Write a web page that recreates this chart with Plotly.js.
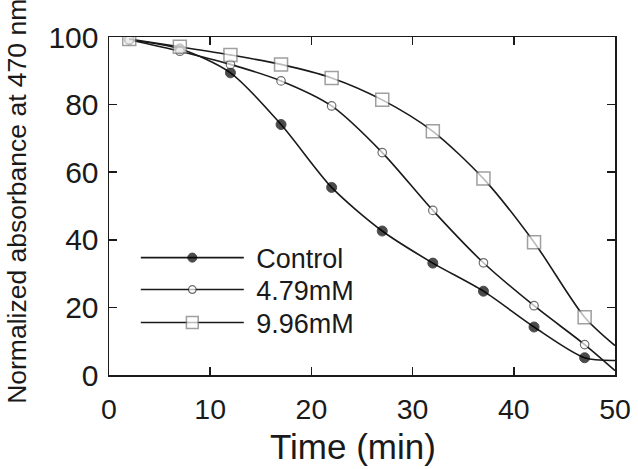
<!DOCTYPE html>
<html>
<head>
<meta charset="utf-8">
<script src="https://cdn.plot.ly/plotly-3.0.1.min.js"></script>
<style>html,body{margin:0;padding:0;background:#fff;}#chart{width:638px;height:469px;}</style>
</head>
<body>
<div id="chart"></div>
<script>
// Time points (min); last point (50) is the curve end without a marker
var time = [2, 7, 12, 17, 22, 27, 32, 37, 42, 47, 50];
var control = [99.2, 96.5, 89.4, 74.1, 55.5, 42.6, 33.1, 24.8, 14.2, 5.1, 4.3];
var mM479 = [99.2, 95.8, 91.9, 87.0, 79.6, 65.8, 48.7, 33.2, 20.5, 9.0, 1.3];
var mM996 = [99.4, 97.1, 94.7, 91.9, 87.9, 81.4, 72.1, 58.1, 39.3, 17.1, 8.7];
var names = ['Control', '4.79mM', '9.96mM'];
var xTicks = [0, 10, 20, 30, 40, 50];
var yTicks = [0, 20, 40, 60, 80, 100];
var xTitle = 'Time (min)';
var yTitle = 'Normalized absorbance at 470 nm';

var ink = '#1a1a1a';
var font = 'Liberation Sans, Arial, Helvetica, sans-serif';

function sizes(s) {
  return time.map(function (t, i) { return i === time.length - 1 ? 0 : s; });
}

var lineStyle = {color: ink, width: 1.6, shape: 'spline', smoothing: 0.8};

var traces = [
  {
    x: time, y: control, name: '\u00a0' + names[0], mode: 'lines+markers', legend: 'legend',
    line: lineStyle,
    marker: {symbol: 'circle', size: sizes(10), color: '#000000', line: {color: '#000000', width: 1}}
  },
  {
    x: time, y: mM479, name: '\u00a0' + names[1], mode: 'lines+markers', legend: 'legend2',
    line: lineStyle,
    marker: {symbol: 'circle', size: sizes(8.5), color: '#ffffff', line: {color: '#333333', width: 1.2}}
  },
  {
    x: time, y: mM996, name: '\u00a0' + names[2], mode: 'lines+markers', legend: 'legend3',
    line: lineStyle,
    marker: {symbol: 'square', size: sizes(13), color: '#ffffff', line: {color: '#777777', width: 1.5}}
  }
];

function legendAt(yCenter) {
  return {
    x: 0.053, y: yCenter, xanchor: 'left', yanchor: 'middle',
    bgcolor: 'rgba(0,0,0,0)', borderwidth: 0,
    font: {family: font, size: 27, color: ink},
    itemwidth: 103
  };
}

var axisCommon = {
  showgrid: false, zeroline: false, showline: true, linecolor: ink, linewidth: 1.5,
  mirror: 'ticks', ticks: 'inside', ticklen: 8, tickwidth: 1.5, tickcolor: ink
};

var layout = {
  width: 638, height: 469,
  margin: {l: 109, r: 23, t: 37, b: 94},
  paper_bgcolor: '#ffffff', plot_bgcolor: '#ffffff',
  showlegend: true,
  legend: legendAt(0.346),
  legend2: legendAt(0.2515),
  legend3: legendAt(0.154),
  xaxis: Object.assign({}, axisCommon, {
    range: [0, 50], tickvals: xTicks, ticktext: xTicks.map(String),
    tickfont: {family: font, size: 28.5, color: ink},
    ticklabelstandoff: 8
  }),
  yaxis: Object.assign({}, axisCommon, {
    range: [0, 100], tickvals: yTicks, ticktext: yTicks.map(String),
    tickfont: {family: font, size: 30, color: ink},
    ticklabelstandoff: 3
  }),
  annotations: [
    {
      text: xTitle, xref: 'paper', yref: 'paper', x: 0.483, y: -0.212,
      xanchor: 'center', yanchor: 'middle', showarrow: false,
      font: {family: font, size: 35, color: ink}
    },
    {
      text: yTitle, xref: 'paper', yref: 'paper', x: -0.182, y: 0.515,
      xanchor: 'center', yanchor: 'middle', showarrow: false, textangle: -90,
      font: {family: font, size: 26.5, color: ink}
    }
  ]
};

Plotly.newPlot('chart', traces, layout, {displayModeBar: false, staticPlot: true});
</script>
</body>
</html>
